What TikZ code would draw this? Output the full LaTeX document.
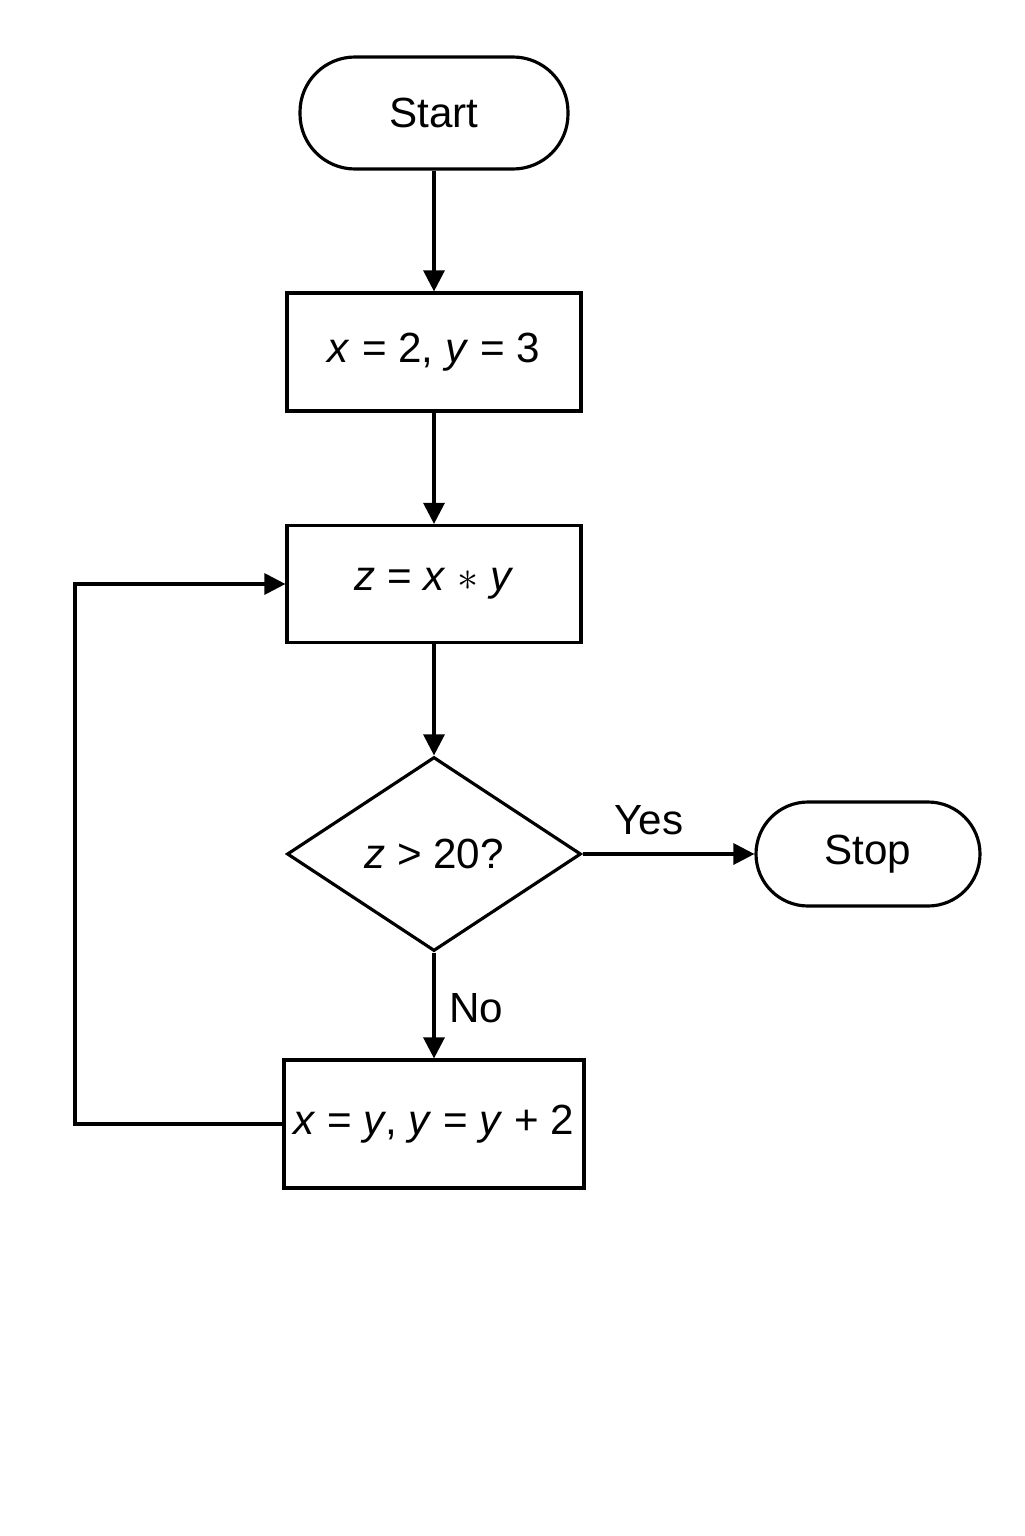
\documentclass[tikz,border=0pt]{standalone}
\usepackage{fontspec}
\setmainfont{Liberation Sans}
\usetikzlibrary{shapes.geometric,arrows.meta}

\begin{document}
\begin{tikzpicture}[line width=.9pt, font=\fontsize{12}{14}\selectfont,
    term/.style={draw, rounded corners=.55cm},
    proc/.style={draw, rectangle, inner sep=2pt},
    test/.style={draw, diamond, inner sep=0pt},
    flow/.style={-{Triangle[length=6pt,width=6pt]}}]
             \useasboundingbox (0,0) rectangle (10.24,-15.36);

             \node[term, minimum width=2.68cm, minimum height=1.12cm] (start) at (4.34,-1.13) {Start};
             \node[proc, minimum width=2.94cm, minimum height=1.18cm] (init) at (4.34,-3.52) {\textit{x} = 2, \textit{y} = 3};
             \node[proc, minimum width=2.94cm, minimum height=1.17cm] (prod) at (4.34,-5.84) {\textit{z} = \textit{x} $*$ \textit{y}};
             \node[test, minimum width=2.94cm, minimum height=1.94cm] (check) at (4.34,-8.54) {\textit{z} > 20?};
             \node[term, rounded corners=.52cm, minimum width=2.24cm, minimum height=1.04cm] (stop) at (8.68,-8.54) {Stop};
             \node[proc, minimum width=3.00cm, minimum height=1.28cm] (update) at (4.34,-11.24) {\textit{x} = \textit{y}, \textit{y} = \textit{y} + 2};
             \coordinate (back) at (0.75,-11.24);

             \draw[flow] (start) -- (init);
             \draw[flow] (init) -- (prod);
             \draw[flow] (prod) -- (check);
             \draw[flow] (check) -- (stop);
             \draw[flow] (check) -- (update);
             \draw[flow] (update.west) -- (back) |- (prod.west);

             \node[draw=none] (yes) at (6.49,-8.20) {Yes};
             \node[draw=none] (no) at (4.76,-10.08) {No};
\end{tikzpicture}
\end{document}
